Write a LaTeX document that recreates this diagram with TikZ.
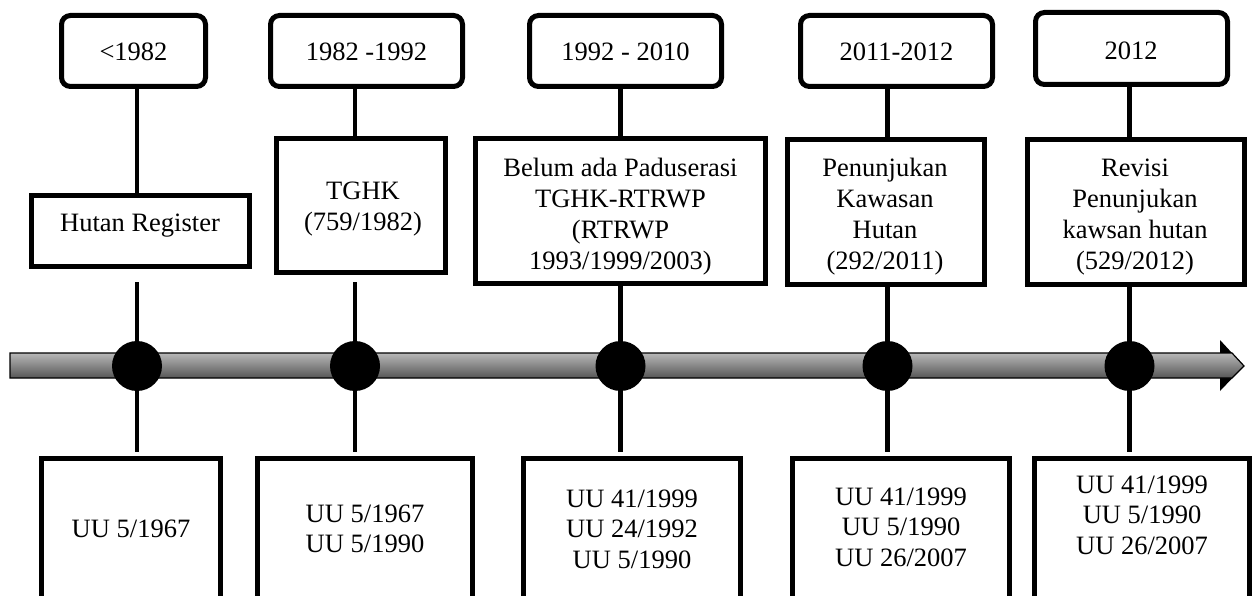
\documentclass[tikz,border=0pt]{standalone}
\usepackage{fontspec}
\setmainfont{Liberation Serif}
\newcommand{\stk}[1]{\begin{tabular}[t]{@{}c@{}}#1\end{tabular}}
\begin{document}
\begin{tikzpicture}[x=1pt,y=-1pt,
  yearbox/.style={draw, line width=5pt, rounded corners=9pt, minimum height=71pt, minimum width=192pt, inner sep=0pt},
  eventbox/.style={draw, line width=5pt, inner sep=0pt, minimum height=145pt},
  lawbox/.style={draw, line width=5pt, inner sep=0pt, minimum height=175pt, anchor=north},
  lbl/.style={anchor=base, inner sep=0pt, font=\fontsize{26.5}{31}\selectfont},
  lawlbl/.style={anchor=base, inner sep=0pt, font=\fontsize{26.5}{30.5}\selectfont},
  link/.style={line width=4.5pt},
  dot/.style={circle, fill=black, minimum size=50pt, inner sep=0pt},
]
\useasboundingbox (0,0) rectangle (1254,596);
\clip (0,0) rectangle (1254,596);

% year boxes
\node[yearbox, minimum width=144pt] (T1) at (133.5,51) {};
\node[yearbox] (T2) at (366.5,51) {};
\node[yearbox] (T3) at (625.5,51) {};
\node[yearbox] (T4) at (896.5,51) {};
\node[yearbox, minimum height=72pt] (T5) at (1131.5,48.5) {};
\node[lbl] (T1t) at (133.5,61) {<1982};
\node[lbl] (T2t) at (366.5,61) {1982 -1992};
\node[lbl] (T3t) at (625.5,61) {1992 - 2010};
\node[lbl] (T4t) at (896.5,61) {2011-2012};
\node[lbl] (T5t) at (1131,60) {2012};

% event boxes
\node[eventbox, minimum width=218pt, minimum height=71pt] (M1) at (140.5,231) {};
\node[eventbox, minimum width=169pt, minimum height=134pt] (M2) at (361,205.5) {};
\node[eventbox, minimum width=290pt] (M3) at (620.5,211) {};
\node[eventbox, minimum width=197pt] (M4) at (886,212) {};
\node[eventbox, minimum width=217pt] (M5) at (1136,212) {};
\node[lbl] (M1t) at (140,232) {Hutan Register};
\node[lbl] (M2t) at (363,200) {\stk{TGHK\\(759/1982)}};
\node[lbl] (M3t) at (620.5,177) {\stk{Belum ada Paduserasi\\TGHK-RTRWP\\(RTRWP\\1993/1999/2003)}};
\node[lbl] (M4t) at (885,177) {\stk{Penunjukan\\Kawasan\\Hutan\\(292/2011)}};
\node[lbl] (M5t) at (1135,177) {\stk{Revisi\\Penunjukan\\kawsan hutan\\(529/2012)}};

% law boxes
\node[lawbox, minimum width=179pt] (B1) at (131,455.5) {};
\node[lawbox, minimum width=215pt] (B2) at (365,455.5) {};
\node[lawbox, minimum width=217pt] (B3) at (632,455.5) {};
\node[lawbox, minimum width=217pt] (B4) at (901,455.5) {};
\node[lawbox, minimum width=215pt] (B5) at (1142,455.5) {};
\node[lawlbl] (B1t) at (131,537) {UU 5/1967};
\node[lawlbl] (B2t) at (365,522) {\stk{UU 5/1967\\UU 5/1990}};
\node[lawlbl] (B3t) at (632,507) {\stk{UU 41/1999\\UU 24/1992\\UU 5/1990}};
\node[lawlbl] (B4t) at (901,505) {\stk{UU 41/1999\\UU 5/1990\\UU 26/2007}};
\node[lawlbl] (B5t) at (1142,493) {\stk{UU 41/1999\\UU 5/1990\\UU 26/2007}};

% timeline arrow
\fill[black] (1220,340) -- (1244,366) -- (1220,391) -- cycle;
\shadedraw[top color=black!28, bottom color=black!66, draw=black, line width=1.2pt]
  (10,353) -- (1232,353) -- (1244,366) -- (1232,378) -- (10,378) -- cycle;

% milestone positions
\coordinate (c1) at (137,366);
\coordinate (c2) at (355,366);
\coordinate (c3) at (620.5,366);
\coordinate (c4) at (887.5,366);
\coordinate (c5) at (1129.5,366);

% connectors
\draw[link] (c1 |- T1.south) -- (c1 |- M1.north);
\draw[link] (c2 |- T2.south) -- (c2 |- M2.north);
\draw[link] (c3 |- T3.south) -- (c3 |- M3.north);
\draw[link] (c4 |- T4.south) -- (c4 |- M4.north);
\draw[link] (c5 |- T5.south) -- (c5 |- M5.north);
\draw[link, shorten <=13.5pt, shorten >=4pt] (c1 |- M1.south) -- (c1 |- B1.north);
\draw[link, shorten <=7.5pt, shorten >=4pt] (c2 |- M2.south) -- (c2 |- B2.north);
\draw[link, shorten >=4pt] (c3 |- M3.south) -- (c3 |- B3.north);
\draw[link, shorten >=4pt] (c4 |- M4.south) -- (c4 |- B4.north);
\draw[link, shorten >=4pt] (c5 |- M5.south) -- (c5 |- B5.north);

% dots
\node[dot] (d1) at (c1) {};
\node[dot] (d2) at (c2) {};
\node[dot] (d3) at (c3) {};
\node[dot] (d4) at (c4) {};
\node[dot] (d5) at (c5) {};
\end{tikzpicture}
\end{document}
